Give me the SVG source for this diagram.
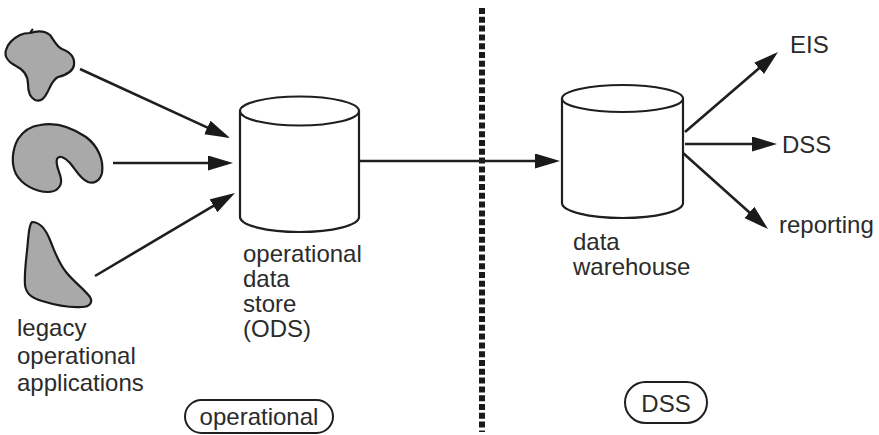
<svg xmlns="http://www.w3.org/2000/svg" width="879" height="435" viewBox="0 0 879 435">
<style>
  .t { font-family: "Liberation Sans", Arial, sans-serif; font-size: 24px; fill: #2b2b2b; }
  .blob { fill: #a9a9a9; stroke: #1a1a1a; stroke-width: 2.2; stroke-linejoin: round; }
  .cyl { fill: #ffffff; stroke: #1f1f1f; stroke-width: 2.2; }
  .conn { stroke: #1f1f1f; stroke-width: 2.6; fill: none; marker-end: url(#ah); }
  .pill { fill: #ffffff; stroke: #1f1f1f; stroke-width: 2; }
</style>
<defs>
  <marker id="ah" markerUnits="userSpaceOnUse" markerWidth="26" markerHeight="16" refX="20" refY="7.5" orient="auto">
    <path d="M0,0 L25,7.5 L0,15 Z" fill="#1a1a1a"/>
  </marker>
</defs>
<rect width="879" height="435" fill="#ffffff"/>

<g id="divider">
  <line x1="482" y1="8" x2="482" y2="432" stroke="#1a1a1a" stroke-width="6" stroke-dasharray="6 2.8"/>
</g>

<g id="legacy-apps">
  <path class="blob" d="M30,33 C36,31 44,30 50,35 C54,40 56,46 62,49 C70,52 75,57 74,65 C73,72 66,75 58,77 C52,80 50,88 47,93 C44,99 40,102 35,100 C29,97 28,90 28,84 C28,76 24,70 16,66 C8,62 4,56 6,50 C8,43 14,38 20,35 C24,33 27,33 30,33 Z"/>
  <path d="M30,33 C31,31 32,30 33,29" stroke="#1a1a1a" stroke-width="2" fill="none"/>
  <path class="blob" d="M40,125 C55,122 70,126 86,137 C98,146 104,160 102,173 C100,181 94,184 88,182 C80,179 76,170 70,163 C65,157 59,155 57,159 C55,165 60,172 61,179 C62,187 56,192 48,192 C36,192 22,185 16,174 C11,164 12,150 18,139 C24,130 32,126 40,125 Z"/>
  <path class="blob" d="M32,222 C40,222 46,230 50,240 C55,252 58,262 66,272 C74,282 84,289 90,297 C93,302 90,307 82,307 C70,308 55,305 42,301 C32,298 26,294 25,285 C24,270 27,255 28,240 C29,232 29,225 32,222 Z"/>
  <text class="t" x="17" y="336">legacy</text>
  <text class="t" x="17" y="364">operational</text>
  <text class="t" x="17" y="391">applications</text>
</g>

<g id="ods">
  <path class="cyl" d="M240,111 L240,217 A59.5,15 0 0 0 359,217 L359,111"/>
  <ellipse class="cyl" cx="299.5" cy="111" rx="59.5" ry="14.5"/>
  <text class="t" x="243" y="262">operational</text>
  <text class="t" x="243" y="287">data</text>
  <text class="t" x="243" y="312">store</text>
  <text class="t" x="243" y="337">(ODS)</text>
</g>

<g id="data-warehouse">
  <path class="cyl" d="M562,98.5 L562,203 A60.5,15 0 0 0 683,203 L683,98.5"/>
  <ellipse class="cyl" cx="622.5" cy="98.5" rx="60.5" ry="13.5"/>
  <text class="t" x="573" y="250">data</text>
  <text class="t" x="573" y="275">warehouse</text>
</g>

<g id="eis"><text class="t" x="790" y="53">EIS</text></g>
<g id="dss-out"><text class="t" x="782" y="153">DSS</text></g>
<g id="reporting"><text class="t" x="779" y="233">reporting</text></g>

<g id="zone-operational">
  <rect class="pill" x="185" y="400" width="148" height="33" rx="16.5"/>
  <text class="t" x="259" y="425" text-anchor="middle">operational</text>
</g>
<g id="zone-dss">
  <rect class="pill" x="625" y="382" width="82" height="41" rx="20.5"/>
  <text class="t" x="666" y="412" text-anchor="middle">DSS</text>
</g>

<g id="connectors">
  <line class="conn" x1="80" y1="69" x2="225.5" y2="135.9"/>
  <line class="conn" x1="113" y1="163" x2="228" y2="163"/>
  <line class="conn" x1="95" y1="276" x2="230.7" y2="195.6"/>
  <line class="conn" x1="359" y1="161" x2="555" y2="161"/>
  <line class="conn" x1="685" y1="132" x2="774.2" y2="55.3"/>
  <line class="conn" x1="685" y1="144" x2="772" y2="144"/>
  <line class="conn" x1="683" y1="153" x2="764.3" y2="225.7"/>
</g>
</svg>
